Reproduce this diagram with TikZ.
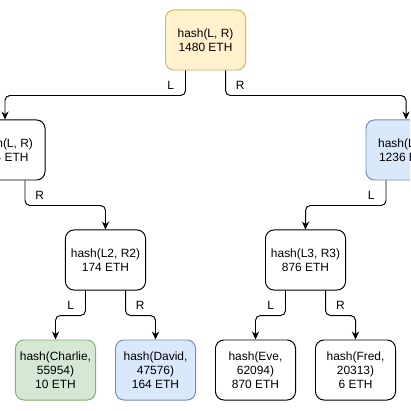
\documentclass[tikz,border=0pt]{standalone}
\usepackage{fontspec}
\setmainfont{Liberation Sans}
\definecolor{rootfill}{HTML}{FFF2CC}
\definecolor{rootline}{HTML}{D6B656}
\definecolor{bluefill}{HTML}{DAE8FC}
\definecolor{blueline}{HTML}{6C8EBF}
\definecolor{greenfill}{HTML}{D5E8D4}
\definecolor{greenline}{HTML}{82B366}
\usetikzlibrary{arrows.meta}
\tikzset{
    hashnode/.style={
        draw=black,
        fill=white,
        rounded corners=6pt,
        line width=0.7pt,
        minimum width=2cm,
        minimum height=1.5cm,
        inner sep=1pt,
        align=center,
        font=\fontsize{8.5}{10}\selectfont
    },
    hashroot/.style={
        hashnode,
        draw=rootline,
        fill=rootfill
    },
    hashblue/.style={
        hashnode,
        draw=blueline,
        fill=bluefill
    },
    hashgreen/.style={
        hashnode,
        draw=greenline,
        fill=greenfill
    },
    hasharrow/.style={
        -{Stealth[length=2mm,width=1.8mm]},
        draw=black,
        line width=0.7pt,
        rounded corners=3.5pt
    },
    sidelabel/.style={
        font=\fontsize{8.5}{10}\selectfont,
        inner sep=0pt
    }
}

\begin{document}
\begin{tikzpicture}[x=0.025cm,y=-0.025cm]
        \useasboundingbox (0,0) rectangle (410,411);
        \clip (0,0) rectangle (410,411);

        \node[hashroot] (root) at (205.5,40)
            {hash(L, R)\\1480 ETH};
        \node[hashnode] (left) at (5,150)
            {hash(L, R)\\244 ETH};
        \node[hashblue] (right) at (406,150)
            {hash(L, R)\\1236 ETH};
        \node[hashnode] (ltwo) at (105.5,260)
            {hash(L2, R2)\\174 ETH};
        \node[hashnode] (lthree) at (305.5,260)
            {hash(L3, R3)\\876 ETH};
        \node[hashgreen] (charlie) at (55.5,370)
            {hash(Charlie,\\55954)\\10 ETH};
        \node[hashblue] (david) at (155.5,370)
            {hash(David,\\47576)\\164 ETH};
        \node[hashnode] (eve) at (255.5,370)
            {hash(Eve,\\62094)\\870 ETH};
        \node[hashnode] (fred) at (355.5,370)
            {hash(Fred,\\20313)\\6 ETH};

        \draw[hasharrow] ([xshift=-0.5cm]root.south) --
            node[sidelabel,pos=0.6,xshift=-0.37cm]{L} ++(0,-0.625cm) -| (left.north);
        \draw[hasharrow] ([xshift=0.5cm]root.south) --
            node[sidelabel,pos=0.6,xshift=0.37cm]{R} ++(0,-0.625cm) -| (right.north);
        \draw[hasharrow] ([xshift=0.5cm]left.south) --
            node[sidelabel,pos=0.6,xshift=0.37cm]{R} ++(0,-0.625cm) -| (ltwo.north);
        \draw[hasharrow] ([xshift=-0.5cm]right.south) --
            node[sidelabel,pos=0.6,xshift=-0.37cm]{L} ++(0,-0.625cm) -| (lthree.north);
        \draw[hasharrow] ([xshift=-0.5cm]ltwo.south) --
            node[sidelabel,pos=0.6,xshift=-0.37cm]{L} ++(0,-0.625cm) -| (charlie.north);
        \draw[hasharrow] ([xshift=0.5cm]ltwo.south) --
            node[sidelabel,pos=0.6,xshift=0.37cm]{R} ++(0,-0.625cm) -| (david.north);
        \draw[hasharrow] ([xshift=-0.5cm]lthree.south) --
            node[sidelabel,pos=0.6,xshift=-0.37cm]{L} ++(0,-0.625cm) -| (eve.north);
        \draw[hasharrow] ([xshift=0.5cm]lthree.south) --
            node[sidelabel,pos=0.6,xshift=0.37cm]{R} ++(0,-0.625cm) -| (fred.north);
    \end{tikzpicture}
\end{document}
